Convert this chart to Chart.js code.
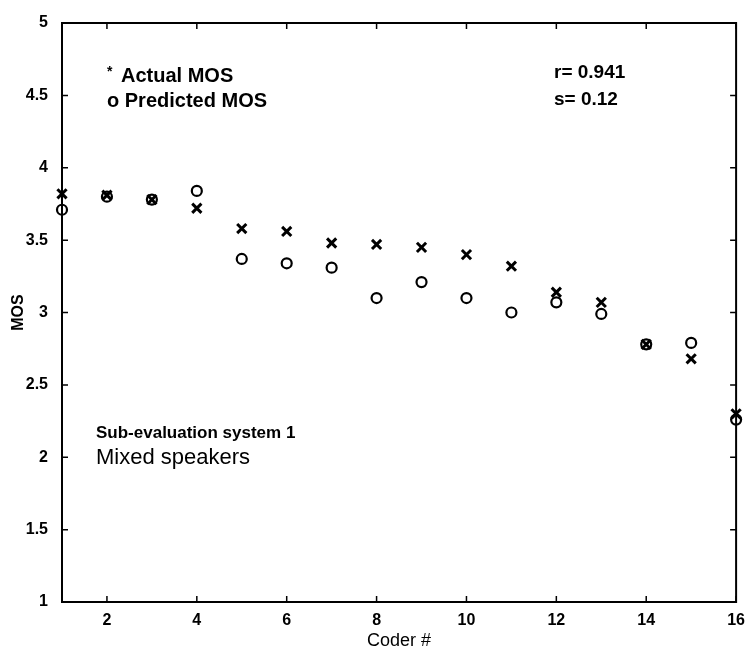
<!DOCTYPE html>
<html>
<head>
<meta charset="utf-8">
<script src="https://cdn.jsdelivr.net/npm/chart.js@4/dist/chart.umd.min.js"></script>
<style>
  html, body { margin: 0; padding: 0; background: #fff; }
  #wrap { width: 746px; height: 651px; }
</style>
</head>
<body>
<div id="wrap"><canvas id="mosChart" width="746" height="651"></canvas></div>
<script>
// coder numbers and MOS values per coder
var coders = [1, 2, 3, 4, 5, 6, 7, 8, 9, 10, 11, 12, 13, 14, 15, 16];
var actualMos = [3.82, 3.81, 3.78, 3.72, 3.58, 3.56, 3.48, 3.47, 3.45, 3.40, 3.32, 3.14, 3.07, 2.78, 2.68, 2.30];
var predictedMos = [3.71, 3.80, 3.78, 3.84, 3.37, 3.34, 3.31, 3.10, 3.21, 3.10, 3.00, 3.07, 2.99, 2.78, 2.79, 2.26];

var xTicks = [2, 4, 6, 8, 10, 12, 14, 16];
var yTicks = [1, 1.5, 2, 2.5, 3, 3.5, 4, 4.5, 5];

var FONT = '"Liberation Sans", Arial, Helvetica, sans-serif';

function toPoints(xs, ys) {
    return xs.map(function(x, i) { return {x: x, y: ys[i]}; });
}

// box around the plot with inward tick marks on every side
var framePlugin = {
    id: 'frame',
    beforeDatasetsDraw: function(chart) {
        var ctx = chart.ctx;
        var a = chart.chartArea;
        var xs = chart.scales.x, ys = chart.scales.y;
        var len = 6;
        ctx.save();
        ctx.strokeStyle = '#000';
        ctx.lineWidth = 2;
        ctx.strokeRect(a.left, a.top, a.right - a.left, a.bottom - a.top);
        ctx.lineWidth = 1.5;
        ctx.beginPath();
        xTicks.forEach(function(v) {
            var px = xs.getPixelForValue(v);
            ctx.moveTo(px, a.bottom); ctx.lineTo(px, a.bottom - len);
            ctx.moveTo(px, a.top); ctx.lineTo(px, a.top + len);
        });
        yTicks.forEach(function(v) {
            var py = ys.getPixelForValue(v);
            ctx.moveTo(a.left, py); ctx.lineTo(a.left + len, py);
            ctx.moveTo(a.right, py); ctx.lineTo(a.right - len, py);
        });
        ctx.stroke();
        ctx.restore();
    }
};

// key and notes written inside the plot
var notesPlugin = {
    id: 'notes',
    afterDatasetsDraw: function(chart) {
        var ctx = chart.ctx;
        ctx.save();
        ctx.fillStyle = '#000';
        ctx.textBaseline = 'middle';
        ctx.textAlign = 'left';
        ctx.font = 'bold 14px ' + FONT;
        ctx.fillText('*', 107, 72);
        ctx.font = 'bold 20px ' + FONT;
        ctx.fillText('Actual MOS', 121, 76);
        ctx.fillText('o Predicted MOS', 107, 101);
        ctx.font = 'bold 19px ' + FONT;
        ctx.fillText('r= 0.941', 554, 73);
        ctx.fillText('s= 0.12', 554, 100);
        ctx.font = 'bold 17px ' + FONT;
        ctx.fillText('Sub-evaluation system 1', 96, 433);
        ctx.font = '22px ' + FONT;
        ctx.fillText('Mixed speakers', 96, 458);
        ctx.restore();
    }
};

new Chart(document.getElementById('mosChart'), {
    type: 'scatter',
    data: {
        datasets: [
            {
                label: 'Actual MOS',
                data: toPoints(coders, actualMos),
                pointStyle: 'crossRot',
                pointRadius: 6.5,
                pointBorderWidth: 3,
                borderColor: '#000',
                backgroundColor: '#000',
                clip: false
            },
            {
                label: 'Predicted MOS',
                data: toPoints(coders, predictedMos),
                pointStyle: 'circle',
                pointRadius: 5,
                pointBorderWidth: 2.2,
                borderColor: '#000',
                backgroundColor: 'rgba(0,0,0,0)',
                clip: false
            }
        ]
    },
    options: {
        responsive: false,
        animation: false,
        layout: { padding: { top: 23, right: 0, left: 0, bottom: 0 } },
        plugins: {
            legend: { display: false },
            tooltip: { enabled: false }
        },
        scales: {
            x: {
                type: 'linear',
                min: 1,
                max: 16,
                grid: { display: false },
                border: { display: false },
                afterBuildTicks: function(scale) {
                    scale.ticks = xTicks.map(function(v) { return {value: v}; });
                },
                afterFit: function(scale) { scale.height = 49; },
                ticks: {
                    color: '#000',
                    padding: 1,
                    maxRotation: 0,
                    callback: function(v) { return String(v); },
                    font: { family: FONT, size: 16, weight: 'bold' }
                },
                title: {
                    display: true,
                    text: 'Coder #',
                    color: '#000',
                    padding: { top: 0, bottom: 0 },
                    font: { family: FONT, size: 18, lineHeight: 1.1 }
                }
            },
            y: {
                type: 'linear',
                min: 1,
                max: 5,
                grid: { display: false },
                border: { display: false },
                afterBuildTicks: function(scale) {
                    scale.ticks = yTicks.map(function(v) { return {value: v}; });
                },
                afterFit: function(scale) { scale.width = 62; },
                ticks: {
                    color: '#000',
                    padding: 6,
                    callback: function(v) { return String(v); },
                    font: { family: FONT, size: 16, weight: 'bold' }
                },
                title: {
                    display: true,
                    text: 'MOS',
                    color: '#000',
                    padding: { top: 9, bottom: 0 },
                    font: { family: FONT, size: 16, weight: 'bold' }
                }
            }
        }
    },
    plugins: [framePlugin, notesPlugin]
});
</script>
</body>
</html>
